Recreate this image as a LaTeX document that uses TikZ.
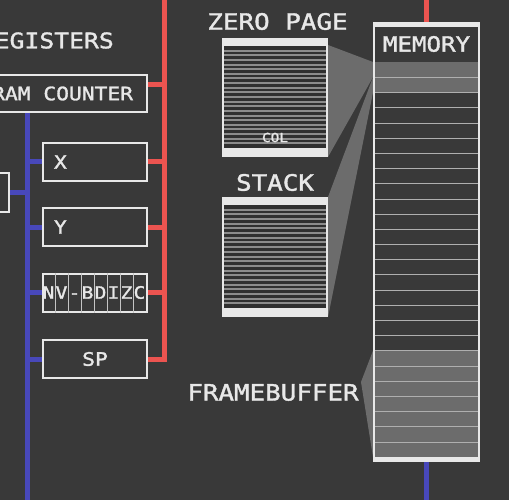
\documentclass[tikz,border=0pt]{standalone}
\usepackage{fontspec}
\newfontfamily\pixfont[FakeStretch=1.15,FakeBold=1.6]{DejaVu Sans Mono}

\definecolor{bg}{RGB}{57,57,57}
\definecolor{fg}{RGB}{232,232,232}
\definecolor{busred}{RGB}{236,84,80}
\definecolor{busblue}{RGB}{72,72,186}
\definecolor{hilite}{RGB}{108,108,108}
\definecolor{rowline}{RGB}{175,175,175}
\definecolor{stripe}{RGB}{140,140,140}
\definecolor{stripebg}{RGB}{48,48,48}

\begin{document}
\begin{tikzpicture}[x=1pt,y=-1pt,
    regbox/.style={draw=fg, line width=2pt, fill=bg, text=fg, inner sep=0pt,
        minimum width=104pt, minimum height=38pt,
        font=\pixfont\fontsize{18.5}{18.5}\selectfont},
    namebox/.style={regbox, text width=82pt, inner xsep=11pt, align=left},
    pagebox/.style={draw=fg, line width=2pt, minimum width=104pt, inner sep=0pt},
    title/.style={text=fg, inner sep=0pt, font=\pixfont\fontsize{22.5}{22.5}\selectfont},
    flagtxt/.style={text=fg, inner sep=0pt, text height=12.4pt, text depth=0pt,
        font=\pixfont\fontsize{17}{17}\selectfont},
    redbus/.style={busred, line width=5pt},
    bluebus/.style={busblue, line width=5pt},
    wedge/.style={fill=hilite},
    stripeline/.style={stripe, line width=2pt},
    cellline/.style={fg!80!bg, line width=1pt}]

    % パラメータの定義
    \pgfmathsetmacro{\rowh}{395/26}
    \pgfmathsetmacro{\strh}{102/22}

    % 背景
    \useasboundingbox (0,0) rectangle (509,500);
    \fill[bg] (0,0) rectangle (509,500);
    \clip (0,0) rectangle (509,500);

    % 点の定義
    \coordinate (rbus) at (164,-5);
    \coordinate (bbus) at (27,505);
    \coordinate (m0) at (373,62);
    \coordinate (m1) at (373,{62+\rowh});
    \coordinate (m2) at (373,{62+2*\rowh});
    \coordinate (m19) at (373,{62+19*\rowh});
    \coordinate (m26) at (373,457);

    % 対応の描画
    \fill[wedge] (328,45) -- (m0) -- (m1) -- (328,157) -- cycle;
    \fill[wedge] (328,197) -- (m1) -- (m2) -- (328,317) -- cycle;
    \fill[wedge] (m19) -- (361,382) -- (m26) -- cycle;

    % メモリの描画
    \fill[hilite] (m0) rectangle (480,{62+2*\rowh});
    \fill[hilite] (m19) rectangle (480,457);
    \foreach \k in {1,...,25}
        \draw[rowline] (374,{62+\k*\rowh}) -- (479,{62+\k*\rowh});
    \fill[fg] (373,22) rectangle (480,27.5);
    \fill[fg] (373,457) rectangle (480,462);
    \node (mem) [draw=fg, line width=2pt, minimum width=105pt, minimum height=438pt] at (426.5,242) {};
    \node (memtitle) [title, font=\pixfont\fontsize{21}{21}\selectfont] at (426.5,44) {MEMORY};

    % ゼロページとスタックの描画
    \fill[stripebg] (222,38) rectangle (328,157);
    \foreach \i in {1,...,21}
        \draw[stripeline] (223,{46+\i*\strh}) -- (327,{46+\i*\strh});
    \fill[fg] (222,38) rectangle (328,46);
    \fill[fg] (222,148) rectangle (328,157);
    \node (zp) [pagebox, minimum height=117pt] at (275,97.5) {};
    \node (col) [text=fg, inner sep=0pt, font=\pixfont\fontsize{12.5}{12.5}\selectfont] at (275,137.5) {COL};

    \fill[stripebg] (222,197) rectangle (328,317);
    \foreach \i in {1,...,21}
        \draw[stripeline] (223,{205+\i*103/22}) -- (327,{205+\i*103/22});
    \fill[fg] (222,197) rectangle (328,205);
    \fill[fg] (222,308) rectangle (328,317);
    \node (stk) [pagebox, minimum height=118pt] at (275,257) {};

    % レジスタの描画
    \node (pc) [regbox, minimum width=220pt, minimum height=37pt] at (37,93.5) {PROGRAM COUNTER};
    \node (acc) [regbox, minimum width=100pt, minimum height=39pt] at (-41,192.5) {};
    \node (regx) [namebox] at (95,162) {X};
    \node (regy) [namebox] at (95,227) {Y};
    \node (flags) [regbox] at (95,292.5) {};
    \node (sp) [regbox] at (95,359) {SP};

    \foreach \k in {1,...,7}
        \draw[cellline] ([xshift=\k*13pt]flags.north west) -- ([xshift=\k*13pt]flags.south west);
    \foreach \f [count=\k] in {N,V,-,B,D,I,Z,C}
        \node (f\k) [flagtxt] at ([xshift={(\k-0.5)*13pt}]flags.west) {\f};

    % バスの描画
    \draw[redbus] (rbus) |- (sp.east);
    \draw[redbus] ([yshift=9pt]pc.east) -- ([yshift=9pt]pc.east -| rbus);
    \foreach \n in {regx,regy,flags}
        \draw[redbus] (\n.east) -- (\n.east -| rbus);
    \draw[redbus] (mem.north) -- (mem.north |- rbus);

    \draw[bluebus] (pc.south -| bbus) -- (bbus);
    \draw[bluebus] (acc.east) -- (acc.east -| bbus);
    \foreach \n in {regx,regy,flags,sp}
        \draw[bluebus] (\n.west) -- (\n.west -| bbus);
    \draw[bluebus] (mem.south) -- (mem.south |- bbus);

    % 見出しの描画
    \node (regs) [title, anchor=east, font=\pixfont\fontsize{21.5}{21.5}\selectfont] at (114,40.5) {REGISTERS};
    \node (zptitle) [title] at (277.5,21.5) {ZERO PAGE};
    \node (stktitle) [title] at (275,182.5) {STACK};
    \node (fbtitle) [title] at (273,392.5) {FRAMEBUFFER};

\end{tikzpicture}
\end{document}
